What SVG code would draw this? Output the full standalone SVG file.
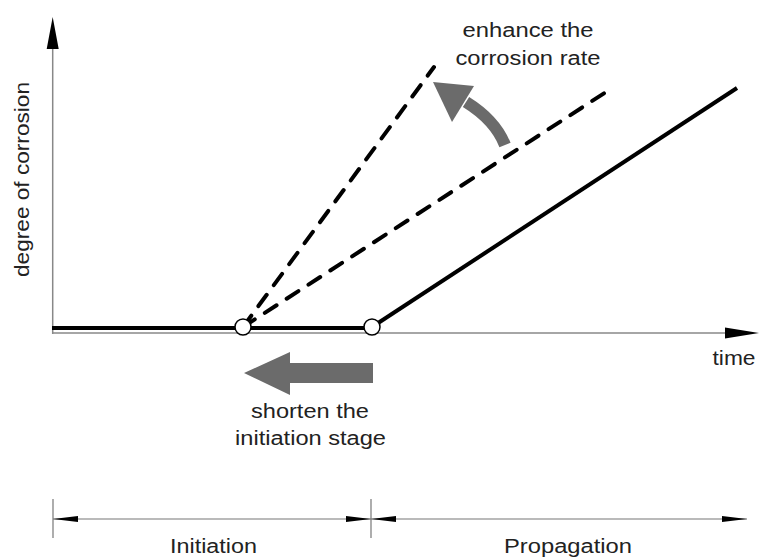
<svg xmlns="http://www.w3.org/2000/svg" width="760" height="557" viewBox="0 0 760 557">
<style>
.t{font-family:"Liberation Sans",Arial,sans-serif;font-size:20px;fill:#222}
.ax{stroke:#888;stroke-width:1.5;fill:none}
.dash{stroke:#000;stroke-width:4;stroke-dasharray:14 12;stroke-linecap:round;fill:none}
.thick{stroke:#000;stroke-width:4;fill:none}
.dim{stroke:#777;stroke-width:1.2;fill:none}
.grey{fill:#6b6b6b}
</style>
<rect width="760" height="557" fill="#fff"/>
<g id="axes">
<line class="ax" x1="52.7" y1="45" x2="52.7" y2="334"/>
<polygon points="52.7,17 46.7,49 58.7,49" fill="#000"/>
<line class="ax" x1="52" y1="333" x2="730" y2="333"/>
<polygon points="759,333 725,327.5 725,338.5" fill="#000"/>
</g>
<g id="connectors">
<line class="thick" x1="52" y1="328" x2="372" y2="328"/>
<line class="dash" x1="243" y1="327" x2="434" y2="67"/>
<line class="dash" x1="243" y1="327" x2="606" y2="92"/>
<line class="thick" x1="372" y1="327" x2="737" y2="88"/>
</g>
<g id="node-circle1"><circle cx="243" cy="327" r="8" fill="#fff" stroke="#000" stroke-width="1.5"/></g>
<g id="node-circle2"><circle cx="372" cy="327" r="8" fill="#fff" stroke="#000" stroke-width="1.5"/></g>
<g id="node-shorten-arrow">
<polygon class="grey" points="244,373 290,352 290,363 373,363 373,383 290,383 290,395"/>
</g>
<g id="node-enhance-arrow">
<path d="M505,145 Q495,120 466,102" stroke="#6b6b6b" stroke-width="12" fill="none"/>
<polygon class="grey" points="433,82 474,86 452,122"/>
</g>
<g id="labels">
<text class="t" x="528" y="37" text-anchor="middle" textLength="131" lengthAdjust="spacingAndGlyphs">enhance the</text>
<text class="t" x="528" y="65" text-anchor="middle" textLength="145" lengthAdjust="spacingAndGlyphs">corrosion rate</text>
<text class="t" x="734" y="365" text-anchor="middle" textLength="43" lengthAdjust="spacingAndGlyphs">time</text>
<text class="t" x="310" y="418" text-anchor="middle" textLength="118" lengthAdjust="spacingAndGlyphs">shorten the</text>
<text class="t" x="310.5" y="445" text-anchor="middle" textLength="151" lengthAdjust="spacingAndGlyphs">initiation stage</text>
<text class="t" transform="translate(29,179.5) rotate(-90)" x="0" y="0" text-anchor="middle" textLength="195" lengthAdjust="spacingAndGlyphs">degree of corrosion</text>
</g>
<g id="dimension">
<line class="dim" x1="53" y1="519" x2="747" y2="519"/>
<line class="dim" x1="53" y1="499" x2="53" y2="538"/>
<line class="dim" x1="371" y1="499" x2="371" y2="538"/>
<polygon points="53,519 78,516 78,522" fill="#000"/>
<polygon points="371,519 346,516 346,522" fill="#000"/>
<polygon points="371,519 396,516 396,522" fill="#000"/>
<polygon points="747,519 722,516 722,522" fill="#000"/>
<text class="t" x="213.5" y="553" text-anchor="middle" textLength="87" lengthAdjust="spacingAndGlyphs">Initiation</text>
<text class="t" x="568" y="553" text-anchor="middle" textLength="128" lengthAdjust="spacingAndGlyphs">Propagation</text>
</g>
</svg>
